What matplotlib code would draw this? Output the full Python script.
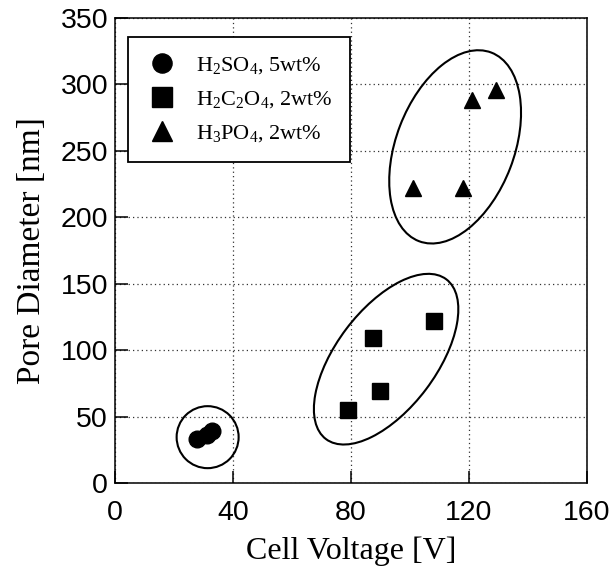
import matplotlib
matplotlib.use("Agg")
import matplotlib.pyplot as plt
from matplotlib.patches import Ellipse
from matplotlib.transforms import ScaledTranslation

plt.rcParams['mathtext.fontset'] = 'custom'
plt.rcParams['mathtext.rm'] = 'Liberation Serif'
plt.rcParams['mathtext.it'] = 'Liberation Serif:italic'

# Data
h2so4_v = [27.8, 31.2, 32.9]
h2so4_d = [33, 36, 39]
h2c2o4_v = [79, 87.5, 89.8, 108]
h2c2o4_d = [55, 109, 69, 122]
h3po4_v = [101, 118, 121, 129]
h3po4_d = [222, 222, 288, 296]
labels = [r'H$_2$SO$_4$, 5wt%', r'H$_2$C$_2$O$_4$, 2wt%', r'H$_3$PO$_4$, 2wt%']
xticks = [0, 40, 80, 120, 160]
yticks = [0, 50, 100, 150, 200, 250, 300, 350]

# Group ellipses: center (data), semi-axes (px), angle (deg)
ellipses = [((31.4, 34.5), 31, 31, 0),
            ((91.9, 93.2), 100, 50, 53),
            ((115.3, 253), 101, 59, 69)]

fig = plt.figure(figsize=(6.12, 5.72), dpi=100)
ax = fig.add_axes([115/612, 1-483/572, 472/612, 465/572])

ms = 12
ax.plot(h2so4_v, h2so4_d, 'o', color='black', ms=ms, label=labels[0], zorder=3)
ax.plot(h2c2o4_v, h2c2o4_d, 's', color='black', ms=ms, label=labels[1], zorder=3)
ax.plot(h3po4_v, h3po4_d, '^', color='black', ms=ms, label=labels[2], zorder=3)

for (c, a, b, ang) in ellipses:
    e = Ellipse((0, 0), width=2*a/100, height=2*b/100, angle=ang,
                transform=fig.dpi_scale_trans + ScaledTranslation(c[0], c[1], ax.transData),
                fill=False, edgecolor='black', lw=1.5, zorder=2)
    ax.add_patch(e)

ax.set_xlim(0, 160)
ax.set_ylim(0, 350)
ax.set_xticks(xticks)
ax.set_yticks(yticks)
ax.tick_params(direction='in', length=9, width=1.1, top=False, right=False,
               labelsize=20.5)
ax.tick_params(axis='x', pad=12)
ax.tick_params(axis='y', pad=5)
for lab in ax.get_xticklabels() + ax.get_yticklabels():
    lab.set_family('Liberation Sans')
ax.grid(True, linestyle=(0, (1, 2.5)), color='#333333', lw=0.9)
ax.set_axisbelow(True)
for s in ax.spines.values():
    s.set_linewidth(1.1)

ax.set_xlabel('Cell Voltage [V]', family='Liberation Serif', fontsize=23, labelpad=8)
ax.set_ylabel('Pore Diameter [nm]', family='Liberation Serif', fontsize=24, labelpad=10)

leg = ax.legend(loc='upper left', bbox_to_anchor=(13/472, (483-37)/465), borderaxespad=0,
                prop={'family': 'Liberation Serif', 'size': 16}, frameon=True, fancybox=False,
                edgecolor='black', framealpha=1, markerscale=1.15, handletextpad=0.75,
                labelspacing=0.6, borderpad=0.8, handlelength=1.5)
leg.get_frame().set_linewidth(1.3)

fig.savefig('out.png', dpi=100)
